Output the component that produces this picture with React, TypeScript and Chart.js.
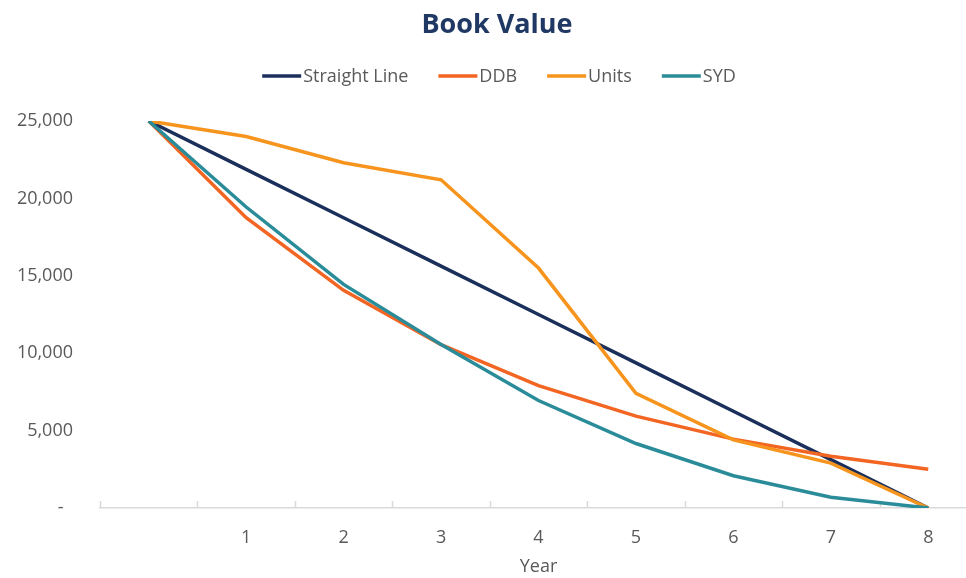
import React, { useEffect, useRef } from "react";
import { Chart, registerables } from "chart.js";

Chart.register(...registerables);

const years = ["", "1", "2", "3", "4", "5", "6", "7", "8"];
const straightLine = [25000, 21875, 18750, 15625, 12500, 9375, 6250, 3125, 0];
const ddb = [25000, 18750, 14063, 10547, 7910, 5933, 4449, 3337, 2503];
const units = [25000, 24000, 22300, 21200, 15500, 7400, 4400, 2900, 0];
const syd = [25000, 19444, 14444, 10556, 6944, 4167, 2083, 694, 0];
const seriesNames = ["Straight Line", "DDB", "Units", "SYD"];
const seriesColors = ["#1B2F5B", "#F26522", "#F7941D", "#2A8C99"];
const titleText = "Book Value";
const xTitle = "Year";

const FONT = "'Open Sans', sans-serif";
const GREY = "#595959";

const decorPlugin = {
  id: "decor",
  beforeDatasetsDraw(chart: any) {
    const ctx = chart.ctx as CanvasRenderingContext2D;
    const x = chart.scales.x;
    const area = chart.chartArea;
    ctx.save();
    ctx.strokeStyle = "#D9D9D9";
    ctx.lineWidth = 1.5;
    const n = chart.data.labels.length;
    const bounds: number[] = [x.left];
    for (let i = 0; i < n - 1; i++) {
      bounds.push((x.getPixelForTick(i) + x.getPixelForTick(i + 1)) / 2);
    }
    for (const b of bounds) {
      ctx.beginPath();
      ctx.moveTo(Math.round(b) + 0.5, area.bottom);
      ctx.lineTo(Math.round(b) + 0.5, area.bottom - 7);
      ctx.stroke();
    }
    ctx.restore();
  },
  afterDraw(chart: any) {
    const ctx = chart.ctx as CanvasRenderingContext2D;
    ctx.save();
    ctx.fillStyle = "#1F3864";
    ctx.font = `bold 27px ${FONT}`;
    ctx.textAlign = "center";
    ctx.textBaseline = "middle";
    ctx.fillText(titleText, 497, 25);
    ctx.font = `18px ${FONT}`;
    ctx.textAlign = "left";
    const lineLen = 39;
    const gapText = 2;
    const gapItem = 30;
    const widths = seriesNames.map((s) => ctx.measureText(s).width);
    const total =
      widths.reduce((a, w) => a + lineLen + gapText + w, 0) + gapItem * (seriesNames.length - 1);
    let cx = 499 - total / 2;
    const ly = 76;
    seriesNames.forEach((name, i) => {
      ctx.strokeStyle = seriesColors[i];
      ctx.lineWidth = 3.5;
      ctx.beginPath();
      ctx.moveTo(cx, ly);
      ctx.lineTo(cx + lineLen, ly);
      ctx.stroke();
      ctx.fillStyle = GREY;
      ctx.fillText(name, cx + lineLen + gapText, ly + 1);
      cx += lineLen + gapText + widths[i] + gapItem;
    });
    ctx.restore();
  },
};

export default function App() {
  const ref = useRef<HTMLCanvasElement | null>(null);
  useEffect(() => {
    if (!ref.current) return;
    const data = [straightLine, ddb, units, syd];
    const chart = new Chart(ref.current, {
      type: "line",
      data: {
        labels: years,
        datasets: seriesNames.map((name, i) => ({
          label: name,
          data: data[i],
          borderColor: seriesColors[i],
          backgroundColor: seriesColors[i],
          borderWidth: 3.5,
          pointRadius: 0,
          tension: 0,
          order: 4 - i,
        })),
      },
      options: {
        animation: false,
        responsive: false,
        maintainAspectRatio: false,
        layout: { padding: { top: 121, left: 0, right: 0, bottom: 0 } },
        plugins: {
          legend: { display: false },
          title: { display: false },
          tooltip: { enabled: false },
        },
        scales: {
          x: {
            type: "category",
            offset: true,
            grid: { display: false, drawTicks: false },
            border: { display: true, color: "#D9D9D9", width: 1.5 },
            ticks: {
              color: GREY,
              font: { family: FONT, size: 18 },
              padding: 19,
              maxRotation: 0,
              autoSkip: false,
            },
            title: {
              display: true,
              text: xTitle,
              color: GREY,
              font: { family: FONT, size: 18 },
              padding: { top: 2, bottom: 0 },
            },
            afterFit(scale: any) {
              scale.height = 70;
            },
          },
          y: {
            min: 0,
            max: 25000,
            grid: { display: false, drawTicks: false },
            border: { display: false },
            ticks: {
              stepSize: 5000,
              color: GREY,
              font: { family: FONT, size: 18 },
              padding: 27,
              callback: (v: any) => (Number(v) === 0 ? "-  " : Number(v).toLocaleString("en-US")),
            },
            afterFit(scale: any) {
              scale.width = 100;
            },
          },
        },
      },
      plugins: [decorPlugin],
    });
    return () => chart.destroy();
  }, []);
  return (
    <div
      style={{
        position: "fixed",
        left: 0,
        top: 0,
        width: 966,
        height: 578,
        overflow: "hidden",
        background: "#fff",
      }}
    >
      <canvas ref={ref} width={977} height={578} style={{ display: "block" }} />
    </div>
  );
}
